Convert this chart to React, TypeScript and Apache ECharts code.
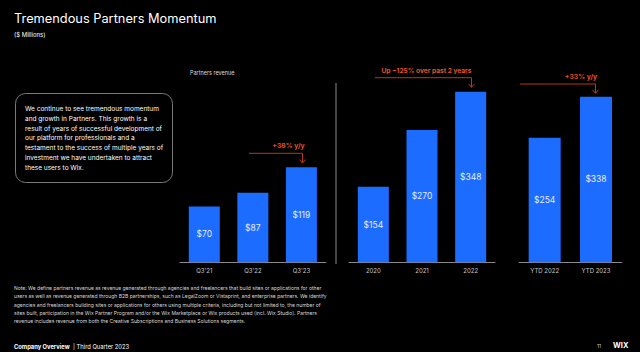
import React, { useEffect, useRef } from "react";
import * as echarts from "echarts";

const quarterCategories = ["Q3'21", "Q3'22", "Q3'23"];
const quarterValues = [70, 87, 119];
const yearCategories = ["2020", "2021", "2022"];
const yearValues = [154, 270, 348];
const ytdCategories = ["YTD 2022", "YTD 2023"];
const ytdValues = [254, 338];

const titleText = "Tremendous Partners Momentum";
const subtitleText = "($ Millions)";
const chartLabel = "Partners revenue";
const boxLines = [
  "We continue to see tremendous momentum",
  "and growth in Partners. This growth is a",
  "result of years of successful development of",
  "our platform for professionals and a",
  "testament to the success of multiple years of",
  "investment we have undertaken to attract",
  "these users to Wix.",
];
const noteLines = [
  "Note: We define partners revenue as revenue generated through agencies and freelancers that build sites or applications for other",
  "users as well as revenue generated through B2B partnerships, such as LegalZoom or Vistaprint, and enterprise partners. We identify",
  "agencies and freelancers building sites or applications for others using multiple criteria, including but not limited to, the number of",
  "sites built, participation in the Wix Partner Program and/or the Wix Marketplace or Wix products used (incl. Wix Studio). Partners",
  "revenue includes revenue from both the Creative Subscriptions and Business Solutions segments.",
];
const growthLabels = ["+38% y/y", "Up ~125% over past 2 years", "+33% y/y"];

const FONT = "Inter";
const BLUE = "#1c6dff";
const ARROW = "#b5391c";
const ARROW_TEXT = "#e5502a";

function arrow(pts: number[][]) {
  const end = pts[pts.length - 1];
  return [
    { type: "polyline", shape: { points: pts }, style: { stroke: ARROW, lineWidth: 1, fill: null } },
    {
      type: "polyline",
      shape: { points: [[end[0] - 3, end[1] - 3.5], [end[0], end[1]], [end[0] + 3, end[1] - 3.5]] },
      style: { stroke: ARROW, lineWidth: 1, fill: null },
    },
  ];
}

export default function App() {
  const ref = useRef<HTMLDivElement>(null);
  useEffect(() => {
    if (!ref.current) return;
    const chart = echarts.init(ref.current, null, { renderer: "svg" });
    const axisCommon = {
      type: "category",
      axisLine: { lineStyle: { color: "#8a8a8a", width: 1 } },
      axisTick: { show: false },
      axisLabel: { color: "#c8c8c8", fontSize: 6, fontFamily: FONT, margin: 5 },
    };
    const yCommon = { type: "value", show: false, min: 0, splitLine: { show: false } };
    const labelCommon = {
      show: true,
      position: "inside",
      color: "#e4ecff",
      fontSize: 8.5,
      fontFamily: FONT,
      formatter: (p: any) => "$" + p.value,
    };
    chart.setOption({
      animation: false,
      backgroundColor: "#000",
      grid: [
        { left: 180, width: 145.7, bottom: 89.7, height: 119.7 },
        { left: 349, width: 146, bottom: 89.7, height: 196 },
        { left: 519, width: 102.7, bottom: 89.7, height: 196 },
      ],
      xAxis: [
        { ...axisCommon, gridIndex: 0, data: quarterCategories },
        { ...axisCommon, gridIndex: 1, data: yearCategories },
        { ...axisCommon, gridIndex: 2, data: ytdCategories },
      ],
      yAxis: [
        { ...yCommon, gridIndex: 0, max: 150 },
        { ...yCommon, gridIndex: 1, max: 400 },
        { ...yCommon, gridIndex: 2, max: 400 },
      ],
      series: [
        { type: "bar", xAxisIndex: 0, yAxisIndex: 0, data: quarterValues, barWidth: 31, itemStyle: { color: BLUE }, label: labelCommon },
        { type: "bar", xAxisIndex: 1, yAxisIndex: 1, data: yearValues, barWidth: 31, itemStyle: { color: BLUE }, label: labelCommon },
        { type: "bar", xAxisIndex: 2, yAxisIndex: 2, data: ytdValues, barWidth: 32, itemStyle: { color: BLUE }, label: labelCommon },
      ],
      graphic: [
        { type: "text", x: 14, y: 18, style: { text: titleText, fill: "#fff", fontSize: 12.8, fontFamily: FONT, verticalAlign: "middle" } },
        { type: "text", x: 14, y: 34.3, style: { text: subtitleText, fill: "#fff", fontSize: 6, fontFamily: FONT, verticalAlign: "middle" } },
        { type: "text", x: 190, y: 72.7, style: { text: chartLabel, fill: "#ddd", fontSize: 5.5, fontFamily: FONT, verticalAlign: "middle" } },
        { type: "rect", shape: { x: 15.5, y: 93.5, width: 157, height: 89, r: 10 }, style: { fill: null, stroke: "#7a7a7a", lineWidth: 1 } },
        { type: "text", x: 25, y: 104.5, style: { text: boxLines.join("\n"), fill: "#fff", fontSize: 6.5, lineHeight: 9.7, fontFamily: FONT } },
        { type: "line", shape: { x1: 336, y1: 83, x2: 336, y2: 264 }, style: { stroke: "#8a8a8a", lineWidth: 1 } },
        ...arrow([[249, 153.3], [302.5, 153.3], [302.5, 163]]),
        ...arrow([[375, 77.7], [471.5, 77.7], [471.5, 87.3]]),
        ...arrow([[520, 84], [595.5, 84], [595.5, 93.3]]),
        { type: "text", x: 288.5, y: 145, style: { text: growthLabels[0], fill: ARROW_TEXT, fontSize: 6.8, fontWeight: "bold", fontFamily: FONT, align: "center", verticalAlign: "middle" } },
        { type: "text", x: 426.5, y: 70.7, style: { text: growthLabels[1], fill: ARROW_TEXT, fontSize: 6.6, fontWeight: "bold", fontFamily: FONT, align: "center", verticalAlign: "middle" } },
        { type: "text", x: 581, y: 76.7, style: { text: growthLabels[2], fill: ARROW_TEXT, fontSize: 6.8, fontWeight: "bold", fontFamily: FONT, align: "center", verticalAlign: "middle" } },
        { type: "text", x: 14, y: 284, style: { text: noteLines.join("\n"), fill: "#d8d8d8", fontSize: 5, lineHeight: 8.2, fontFamily: FONT } },
        {
          type: "text",
          x: 14,
          y: 346,
          style: {
            text: "{b|Company Overview} {r|| Third Quarter 2023}",
            verticalAlign: "middle",
            rich: {
              b: { fill: "#fff", fontSize: 5.8, fontWeight: "bold", fontFamily: FONT },
              r: { fill: "#fff", fontSize: 5.8, fontFamily: FONT },
            },
          },
        },
        { type: "text", x: 597, y: 345.5, style: { text: "11", fill: "#ccc", fontSize: 5, fontFamily: FONT, verticalAlign: "middle" } },
        { type: "text", x: 613, y: 345, style: { text: "WIX", fill: "#fff", fontSize: 7.5, fontWeight: "bold", fontFamily: FONT, verticalAlign: "middle" } },
      ],
    });
    return () => chart.dispose();
  }, []);
  return <div ref={ref} style={{ position: "absolute", left: 0, top: 0, width: 640, height: 352 }} />;
}
